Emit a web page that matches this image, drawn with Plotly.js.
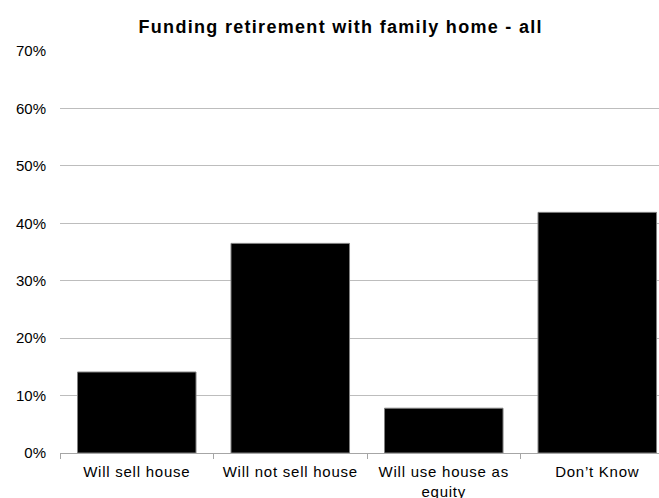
<!DOCTYPE html>
<html>
<head>
<meta charset="utf-8">
<script src="https://cdn.plot.ly/plotly-3.0.1.min.js"></script>
<style>
html,body{margin:0;padding:0;background:#fff;overflow:hidden}
#chart{width:659px;height:498px}
#chart .gtitle{letter-spacing:1.3px}
#chart .xtick text{letter-spacing:0.75px}
</style>
</head>
<body>
<div id="chart"></div>
<script>
var categories = ["Will sell house", "Will not sell house", "Will use house as<br>equity", "Don\u2019t Know"];
var values = [14.1, 36.5, 7.8, 41.9];
var yTicks = [0, 10, 20, 30, 40, 50, 60, 70];
var chartTitle = "Funding retirement with family home - all";

var trace = {
  type: "bar",
  x: categories,
  y: values,
  marker: {color: "#000000", line: {color: "#808080", width: 1}},
  hoverinfo: "skip"
};

var layout = {
  width: 659,
  height: 498,
  margin: {l: 60, r: 0, t: 51, b: 45, pad: 0},
  paper_bgcolor: "#ffffff",
  plot_bgcolor: "#ffffff",
  showlegend: false,
  bargap: 0.228,
  font: {family: "Liberation Sans, Arial, sans-serif", color: "#000000", size: 15},
  title: {
    text: "<b>" + chartTitle + "</b>",
    font: {family: "Liberation Sans, Arial, sans-serif", size: 18, color: "#000000"},
    x: 0.517, xref: "container", xanchor: "center",
    y: 0.947, yref: "container", yanchor: "middle"
  },
  xaxis: {
    type: "category",
    range: [-0.5, 3.402],
    showline: true,
    linecolor: "#a6a6a6",
    linewidth: 1,
    ticks: "outside",
    tickson: "boundaries",
    ticklen: 5,
    tickcolor: "#a6a6a6",
    ticklabelstandoff: 5,
    showgrid: false,
    zeroline: false,
    tickfont: {size: 15, color: "#000000"}
  },
  yaxis: {
    range: [0, 70],
    tickvals: yTicks,
    ticktext: yTicks.map(function(v){return v + "%";}),
    showgrid: true,
    gridcolor: "#bdbdbd",
    gridwidth: 1,
    zeroline: false,
    showline: false,
    ticks: "",
    ticklabelstandoff: 13,
    tickfont: {size: 15, color: "#000000"}
  }
};

Plotly.newPlot("chart", [trace], layout, {displayModeBar: false, staticPlot: true});
</script>
</body>
</html>
